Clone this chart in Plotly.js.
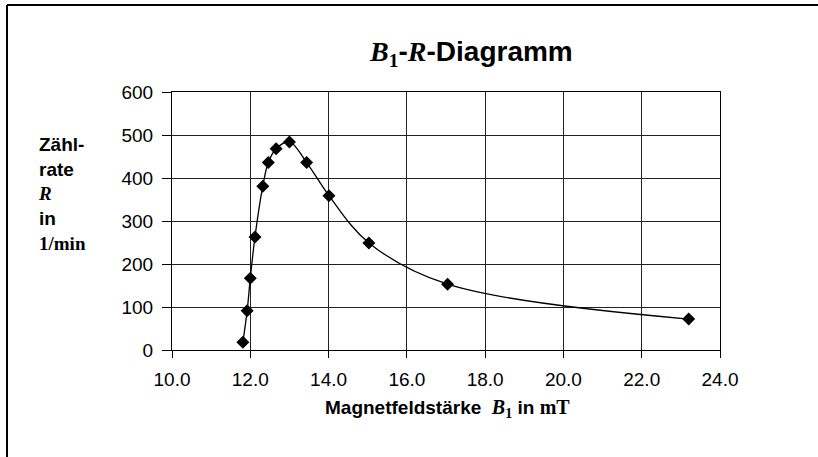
<!DOCTYPE html>
<html>
<head>
<meta charset="utf-8">
<script src="https://cdn.plot.ly/plotly-3.0.1.min.js"></script>
<style>html,body{margin:0;padding:0;background:#fff;}#chart{width:818px;height:457px;}</style>
</head>
<body>
<div id="chart"></div>
<script>
// Data
const fieldB1 = [11.81, 11.92, 12.0, 12.12, 12.32, 12.46, 12.66, 13.0, 13.44, 14.01, 15.03, 17.04, 23.2];
const rateR = [18, 91, 167, 263, 381, 436, 468, 484, 436, 359, 249, 153, 72];
const xTicks = [10, 12, 14, 16, 18, 20, 22, 24];
const xTickLabels = ["10.0", "12.0", "14.0", "16.0", "18.0", "20.0", "22.0", "24.0"];
const yTicks = [0, 100, 200, 300, 400, 500, 600];

const SERIF = "Liberation Serif, Times New Roman, serif";
const SANS = "Liberation Sans, Arial, sans-serif";

const trace = {
  x: fieldB1,
  y: rateR,
  type: "scatter",
  mode: "lines+markers",
  line: {color: "#000", width: 1.3, shape: "spline", smoothing: 1},
  marker: {symbol: "diamond", size: 10, color: "#000"},
  showlegend: false,
  hoverinfo: "x+y"
};

const L = 172, R = 98, T = 92, B = 107, W = 818, H = 457;
const pw = W - L - R, ph = H - T - B;
const px = p => (p - L) / pw;
const py = p => (H - B - p) / ph;

const layout = {
  width: W, height: H,
  margin: {l: L, r: R, t: T, b: B, pad: 0},
  paper_bgcolor: "#fff",
  plot_bgcolor: "#fff",
  font: {family: SANS, size: 19, color: "#000"},
  xaxis: {
    range: [10, 24],
    tickmode: "array", tickvals: xTicks, ticktext: xTickLabels,
    ticks: "outside", ticklen: 7, tickcolor: "#000", tickwidth: 1,
    ticklabelstandoff: 5,
    showgrid: true, gridcolor: "#222", gridwidth: 1,
    showline: true, linecolor: "#000", linewidth: 1, mirror: true,
    zeroline: false,
    tickfont: {family: SANS, size: 19, color: "#000"}
  },
  yaxis: {
    range: [0, 600],
    tickmode: "array", tickvals: yTicks,
    ticks: "outside", ticklen: 9, tickcolor: "#000", tickwidth: 1,
    ticklabelstandoff: 5,
    showgrid: true, gridcolor: "#222", gridwidth: 1,
    showline: true, linecolor: "#000", linewidth: 1, mirror: true,
    zeroline: false,
    tickfont: {family: SANS, size: 19, color: "#000"}
  },
  annotations: [
    {
      xref: "paper", yref: "paper", x: px(471), y: py(54),
      xanchor: "center", yanchor: "middle", showarrow: false,
      font: {family: SANS, size: 28, color: "#000"},
      text: '<b><span style="font-family:' + SERIF + '"><i>B</i><sub>1</sub></span>-<span style="font-family:' + SERIF + '"><i>R</i></span>-Diagramm</b>'
    },
    {
      xref: "paper", yref: "paper", x: px(447), y: py(408),
      xanchor: "center", yanchor: "middle", showarrow: false,
      font: {family: SANS, size: 19, color: "#000"},
      text: '<b>Magnetfeldstärke\u00a0\u00a0<span style="font-family:' + SERIF + ';font-size:20px"><i>B</i><sub>1</sub></span> in <span style="font-family:' + SERIF + ';font-size:20px">mT</span></b>'
    },
    {
      xref: "paper", yref: "paper", x: px(36), y: py(132),
      xanchor: "left", yanchor: "top", align: "left", showarrow: false,
      font: {family: SANS, size: 19, color: "#000"},
      text: '<b>Zähl-<br>rate<br><span style="font-family:' + SERIF + '"><i>R</i></span><br>in<br><span style="font-family:' + SERIF + '">1/min</span></b>'
    }
  ],
  shapes: [
    {type: "line", xref: "paper", yref: "paper", x0: px(7), x1: px(818), y0: py(5), y1: py(5), line: {color: "#000", width: 2}},
    {type: "line", xref: "paper", yref: "paper", x0: px(7), x1: px(7), y0: py(5), y1: py(457), line: {color: "#000", width: 2}}
  ]
};

Plotly.newPlot("chart", [trace], layout, {displayModeBar: false, staticPlot: true});
</script>
</body>
</html>
